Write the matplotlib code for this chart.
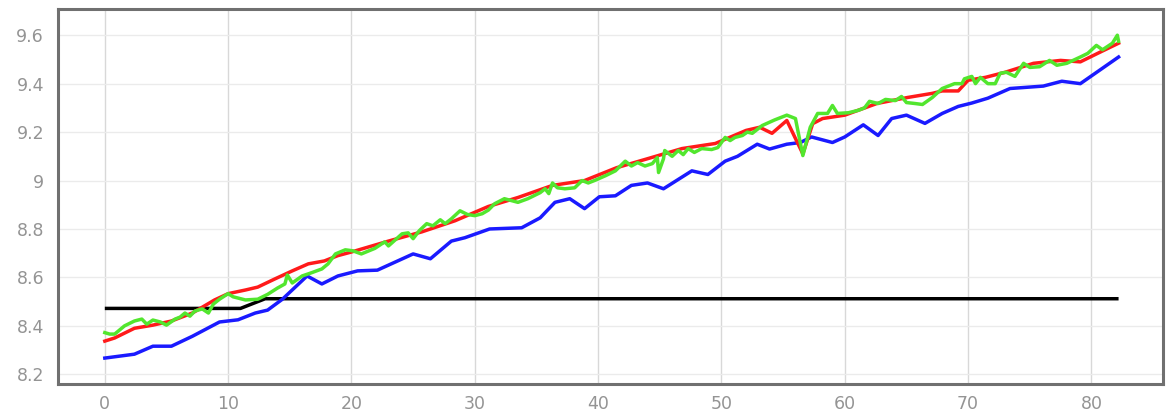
import matplotlib
matplotlib.use("Agg")
import matplotlib.pyplot as plt
from matplotlib.ticker import FuncFormatter

# Quarterly-style series (x in periods)
blue_x = [0, 2.4, 3.9, 5.4, 7.1, 9.3, 10.8, 12.2, 13.2, 14.4, 16.4, 17.6, 18.9, 20.5,
          22.1, 25.0, 26.4, 28.1, 29.2, 31.2, 33.8, 35.3, 36.5, 37.7, 38.9, 40.1, 41.4,
          42.7, 44.0, 45.3, 47.6, 48.9, 50.3, 51.3, 52.9, 53.9, 55.3, 56.4, 57.3, 59.0,
          60.0, 61.5, 62.7, 63.8, 65.0, 66.5, 67.9, 69.2, 70.3, 71.6, 73.4, 76.1, 77.6,
          79.1, 82.2]
blue_y = [8.267, 8.283, 8.316, 8.316, 8.357, 8.416, 8.425, 8.453, 8.465, 8.51, 8.606,
          8.573, 8.606, 8.627, 8.63, 8.697, 8.677, 8.75, 8.764, 8.80, 8.805, 8.846, 8.91,
          8.925, 8.884, 8.933, 8.937, 8.98, 8.99, 8.966, 9.04, 9.025, 9.08, 9.10, 9.15,
          9.13, 9.15, 9.157, 9.18, 9.157, 9.18, 9.23, 9.186, 9.256, 9.27, 9.236, 9.277,
          9.306, 9.32, 9.34, 9.38, 9.39, 9.41, 9.40, 9.51]

red_x = [0, 0.8, 2.4, 3.9, 5.4, 7.1, 8.9, 10.0, 11.4, 12.4, 13.8, 15.2, 16.5, 17.8, 18.9,
         20.0, 23.0, 25.7, 28.4, 31.1, 33.5, 36.3, 38.9, 41.5, 44.0, 46.8, 49.5, 52.0,
         53.1, 54.1, 55.3, 56.6, 57.4, 58.2, 60.0, 62.6, 65.1, 67.1, 67.9, 69.2, 70.0,
         71.4, 73.0, 75.3, 77.5, 79.1, 80.7, 82.2]
red_y = [8.337, 8.35, 8.39, 8.403, 8.42, 8.453, 8.507, 8.533, 8.548, 8.56, 8.594, 8.627,
         8.656, 8.668, 8.69, 8.705, 8.75, 8.788, 8.834, 8.893, 8.93, 8.98, 9.0, 9.053,
         9.09, 9.132, 9.153, 9.207, 9.22, 9.195, 9.248, 9.11, 9.235, 9.256, 9.27, 9.318,
         9.343, 9.36, 9.37, 9.37, 9.414, 9.426, 9.447, 9.484, 9.496, 9.49, 9.53, 9.567]

green_x = [0, 0.4, 0.8, 1.6, 2.4, 3.0, 3.4, 3.9, 4.5, 5.0, 5.7, 6.1, 6.5, 6.9, 7.3, 7.9,
           8.4, 8.8, 9.3, 10.0, 10.4, 11.4, 12.4, 13.2, 14.0, 14.6, 14.8, 15.2, 16.0,
           16.8, 17.6, 18.1, 18.7, 19.5, 20.1, 20.8, 21.9, 22.7, 23.0, 24.1, 24.6, 25.0,
           25.5, 26.1, 26.6, 27.2, 27.6, 28.1, 28.8, 29.4, 30.0, 30.6, 31.1, 31.6, 32.4,
           33.0, 33.5, 34.3, 35.3, 35.7, 36.0, 36.3, 36.7, 37.3, 38.1, 38.7, 39.2, 39.7,
           40.6, 41.4, 41.8, 42.2, 42.7, 43.2, 43.8, 44.4, 44.8, 44.9, 45.3, 45.4, 46.0,
           46.5, 46.9, 47.3, 47.8, 48.4, 49.2, 49.7, 50.3, 50.7, 51.1, 51.7, 52.1, 52.5,
           53.3, 54.3, 55.3, 56.0, 56.6, 57.2, 57.8, 58.6, 59.0, 59.4, 60.3, 61.1, 61.6,
           62.0, 62.7, 63.3, 64.1, 64.6, 65.0, 65.7, 66.3, 67.1, 67.9, 68.9, 69.5, 69.7,
           70.3, 70.6, 71.0, 71.6, 72.2, 72.6, 73.1, 73.8, 74.5, 75.0, 75.8, 76.6, 77.2,
           78.0, 79.1, 79.7, 80.4, 80.9, 81.7, 82.1, 82.2]
green_y = [8.372, 8.366, 8.366, 8.40, 8.42, 8.428, 8.407, 8.424, 8.416, 8.403, 8.428,
           8.436, 8.453, 8.44, 8.461, 8.47, 8.453, 8.49, 8.51, 8.533, 8.52, 8.507, 8.51,
           8.53, 8.556, 8.573, 8.61, 8.577, 8.606, 8.62, 8.635, 8.656, 8.697, 8.714, 8.71,
           8.697, 8.72, 8.747, 8.73, 8.78, 8.784, 8.76, 8.793, 8.822, 8.813, 8.838, 8.822,
           8.842, 8.875, 8.86, 8.855, 8.863, 8.878, 8.904, 8.925, 8.917, 8.91, 8.925, 8.95,
           8.966, 8.946, 8.99, 8.97, 8.966, 8.97, 9.0, 8.99, 9.0, 9.02, 9.04, 9.06, 9.08,
           9.06, 9.074, 9.06, 9.07, 9.095, 9.033, 9.09, 9.124, 9.10, 9.124, 9.107, 9.132,
           9.116, 9.132, 9.128, 9.136, 9.178, 9.165, 9.178, 9.186, 9.20, 9.195, 9.227,
           9.25, 9.27, 9.256, 9.103, 9.22, 9.277, 9.277, 9.31, 9.277, 9.28, 9.29, 9.30,
           9.327, 9.318, 9.335, 9.33, 9.347, 9.322, 9.318, 9.314, 9.343, 9.38, 9.40, 9.40,
           9.42, 9.43, 9.40, 9.426, 9.40, 9.40, 9.443, 9.447, 9.43, 9.484, 9.467, 9.47,
           9.496, 9.476, 9.484, 9.51, 9.525, 9.558, 9.54, 9.567, 9.60, 9.575]

black_x = [0, 11.0, 13.0, 82.2]
black_y = [8.472, 8.472, 8.512, 8.512]

y_ticks = [8.2, 8.4, 8.6, 8.8, 9.0, 9.2, 9.4, 9.6]
x_ticks = [0, 10, 20, 30, 40, 50, 60, 70, 80]

fig = plt.figure(figsize=(11.66, 4.12), dpi=100)
ax = fig.add_axes([0.0497, 0.068, 0.9477, 0.910])

lw = 2.5
ax.plot(black_x, black_y, color="#000000", lw=lw, solid_capstyle="butt", zorder=3)
ax.plot(blue_x, blue_y, color="#1a1aff", lw=lw, zorder=3)
ax.plot(red_x, red_y, color="#ff1a1a", lw=lw, zorder=4)
ax.plot(green_x, green_y, color="#52e62e", lw=lw, zorder=5)

ax.set_xlim(-3.8, 85.8)
ax.set_ylim(8.16, 9.708)
ax.set_xticks(x_ticks)
ax.set_yticks(y_ticks)
ax.yaxis.set_major_formatter(FuncFormatter(lambda v, p: f"{v:g}"))

ax.grid(axis="x", color="#d8d8d8", lw=1.0)
ax.grid(axis="y", color="#ebebeb", lw=1.0)
ax.set_axisbelow(True)

for sp in ax.spines.values():
    sp.set_color("#707070")
    sp.set_linewidth(2.2)

ax.tick_params(axis="both", length=0, labelsize=12.5, labelcolor="#949494")
ax.tick_params(axis="y", pad=10)
ax.tick_params(axis="x", pad=8)

fig.savefig("out.png", dpi=100, facecolor="white")
